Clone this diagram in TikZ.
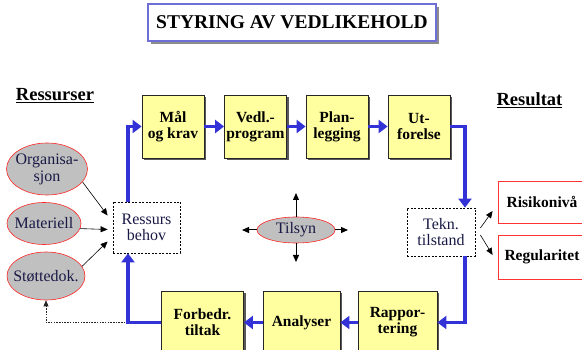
\documentclass[tikz,border=0pt]{standalone}
\usepackage{fontspec}
\setmainfont{LiberationSerif}[Extension=.ttf,UprightFont=*-Regular,BoldFont=*-Bold,
  ItalicFont=*-Italic,BoldItalicFont=*-BoldItalic]
\usetikzlibrary{shapes.geometric,shadows,arrows.meta}

\definecolor{boxyellow}{RGB}{255,255,160}
\definecolor{flowblue}{RGB}{50,50,215}
\definecolor{ovalgray}{RGB}{192,192,192}
\definecolor{titleline}{RGB}{110,110,215}
\definecolor{inkblue}{RGB}{25,25,70}

\begin{document}
\begin{tikzpicture}[x=1pt,y=-1pt,
    stepbox/.style={draw=black!85,fill=boxyellow,line width=0.8pt,minimum width=62pt,
      minimum height=63pt,inner sep=0pt,align=center,font=\fontsize{15.5}{16}\selectfont\bfseries,
      drop shadow={shadow xshift=2pt,shadow yshift=-2pt,fill=black!65,opacity=1}},
    oval/.style={ellipse,draw=red!85,fill=ovalgray,line width=0.6pt,inner xsep=-6pt,inner ysep=0pt,
      align=center,text=inkblue,font=\fontsize{16}{17}\selectfont},
    needbox/.style={draw,dash pattern=on 2pt off 1.5pt,line width=0.8pt,inner sep=0pt,
      align=center,text=inkblue,font=\fontsize{16}{16}\selectfont},
    resbox/.style={draw=red!80,line width=0.8pt,minimum width=88pt,inner sep=0pt,
      font=\fontsize{15.5}{16}\selectfont\bfseries},
    heading/.style={inner sep=0pt,font=\fontsize{18.5}{19}\selectfont\bfseries},
    flow/.style={draw=flowblue,line width=3.2pt,-{Triangle[length=9pt,width=13pt]}},
    feed/.style={line width=0.6pt,-{Triangle[length=7pt,width=6pt]}},
    back/.style={line width=0.7pt,black!85,dash pattern=on 1.5pt off 1.2pt,-{Triangle[length=6pt,width=5pt]}}]
\useasboundingbox (0,0) rectangle (582,350);

% title and headings
\node[draw=titleline,line width=1.5pt,fill=white,minimum width=288pt,minimum height=37pt,
  font=\fontsize{19.5}{20}\selectfont\bfseries,
  drop shadow={shadow xshift=3pt,shadow yshift=-3pt,fill=black!45,opacity=1}] at (292,22.5) (head) {STYRING AV VEDLIKEHOLD};
\node[heading] at (55,96) (ress) {\underline{Ressurser}};
\node[heading] at (529.5,100) (resu) {\underline{Resultat}};

% the loop
\node[stepbox] at (173,126.5) (mal) {Mål\\og krav};
\node[stepbox] at (255.5,126.5) (vedl) {Vedl.-\\program};
\node[stepbox] at (337,126.5) (plan) {Plan-\\legging};
\node[stepbox] at (419,126.5) (utf) {Ut-\\forelse};
\node[stepbox,minimum width=82pt] at (202.5,322.5) (forb) {Forbedr.\\tiltak};
\node[stepbox,minimum width=77pt] at (301.5,322.5) (anal) {Analyser};
\node[stepbox,minimum width=79pt] at (397.5,322.5) (rapp) {Rappor-\\tering};

\node[needbox,minimum width=67pt,minimum height=51pt] at (146.5,227.5) (behov) {Ressurs\\behov};
\node[needbox,minimum width=68pt,minimum height=48pt] at (441,232) (tekn) {Tekn.\\tilstand};

% resources
\node[oval,minimum width=81pt,minimum height=52pt] at (47,169) (org) {Organisa-\\sjon};
\node[oval,minimum width=74pt,minimum height=42pt] at (44,223.5) (mat) {Materiell};
\node[oval,minimum width=78pt,minimum height=48pt] at (46,276) (stot) {Støttedok.};
\node[oval,minimum width=78pt,minimum height=26pt] at (296,230) (tils) {Tilsyn};

% results
\node[resbox,minimum height=42pt] at (542,202) (risk) {Risikonivå};
\node[resbox,minimum height=44pt] at (542,257) (regu) {Regularitet};

\coordinate (lrail) at (128,0);
\coordinate (rrail) at (465,0);
\coordinate (tn) at (296,193);
\coordinate (ts) at (296,262);
\coordinate (tw) at (242,230);
\coordinate (te) at (348,230);

\draw[back] (lrail |- forb.west) -| (stot.south);
\draw[flow] (lrail |- behov.north) |- (mal.west);
\draw[flow] (mal) -- (vedl);
\draw[flow] (vedl) -- (plan);
\draw[flow] (plan) -- (utf);
\draw[flow] (utf.east) -| (rrail |- tekn.north);
\draw[flow] (rrail |- tekn.south) |- (rapp.east);
\draw[flow] (rapp) -- (anal);
\draw[flow] (anal) -- (forb);
\draw[flow] (forb.west) -| (lrail |- behov.south);

\draw[feed] (org.-20) -- ([xshift=-5pt,yshift=12pt]behov.west);
\draw[feed] (mat.-8) -- ([xshift=-5pt,yshift=-2pt]behov.west);
\draw[feed] (stot.15) -- ([xshift=-5pt,yshift=-14pt]behov.west);
\draw[feed] ([xshift=5pt,yshift=4pt]tekn.east) -- ([xshift=-5pt,yshift=-9pt]risk.west);
\draw[feed] ([xshift=5pt,yshift=-3pt]tekn.east) -- ([xshift=-5pt,yshift=2pt]regu.west);

\draw[feed,line width=1pt] (tils.north) -- (tn);
\draw[feed,line width=1pt] (tils.south) -- (ts);
\draw[feed,line width=1pt] (tils.west) -- (tw);
\draw[feed,line width=1pt] (tils.east) -- (te);
\end{tikzpicture}
\end{document}
